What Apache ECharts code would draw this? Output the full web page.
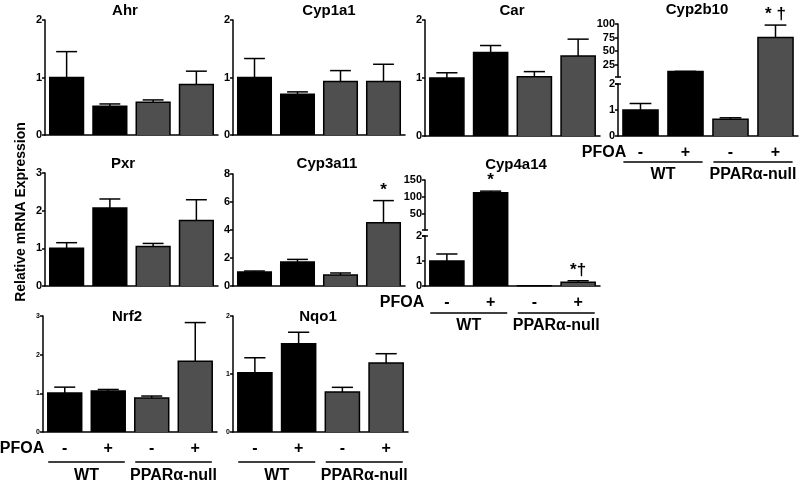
<!DOCTYPE html>
<html>
<head>
<meta charset="utf-8">
<script src="https://cdn.jsdelivr.net/npm/echarts@6.0.0/dist/echarts.min.js"></script>
<style>
  html, body { margin: 0; padding: 0; background: #fff; }
  #chart { width: 800px; height: 489px; }
</style>
</head>
<body>
<div id="chart"></div>
<script>
// x labels: PFOA treatment and genotype groups
var pfoa = ['-', '+', '-', '+'];
var genotypes = ['WT', 'PPARα-null'];

// mean relative mRNA expression (WT -, WT +, null -, null +) and SEM
var ahr = [1.0, 0.50, 0.57, 0.88];
var ahrSem = [0.45, 0.04, 0.04, 0.23];
var cyp1a1 = [1.0, 0.71, 0.93, 0.93];
var cyp1a1Sem = [0.33, 0.04, 0.19, 0.30];
var car = [1.0, 1.44, 1.02, 1.38];
var carSem = [0.09, 0.12, 0.09, 0.29];
var cyp2b10 = [1.0, 12, 0.64, 75];
var cyp2b10Sem = [0.25, 0.4, 0.06, 23];
var cyp2b10Notes = ['', '', '', '* †'];
var pxr = [1.0, 2.07, 1.05, 1.74];
var pxrSem = [0.15, 0.24, 0.08, 0.55];
var cyp3a11 = [1.0, 1.71, 0.79, 4.52];
var cyp3a11Sem = [0.07, 0.19, 0.14, 1.58];
var cyp3a11Notes = ['', '', '', '*'];
var cyp4a14 = [1.0, 112, 0.01, 0.15];
var cyp4a14Sem = [0.28, 5, 0, 0.06];
var cyp4a14Notes = ['', '*', '', '*†'];
var nrf2 = [1.01, 1.06, 0.88, 1.83];
var nrf2Sem = [0.15, 0.04, 0.05, 1.0];
var nqo1 = [1.02, 1.52, 0.69, 1.19];
var nqo1Sem = [0.26, 0.20, 0.08, 0.16];

// upper segment ticks of the broken axes
var cyp2b10UpperTicks = [25, 50, 75, 100];
var cyp4a14UpperTicks = [50, 100, 150];

var FONT = '"Liberation Sans", Arial, Helvetica, sans-serif';
var WT_COLOR = '#000000';
var NULL_COLOR = '#4f4f4f';

var panels = [
  { name: 'Ahr', mean: ahr, sem: ahrSem, left: 45, top: 20, width: 173, height: 115, max: 2, interval: 1, tx: 125, ty: 11 },
  { name: 'Cyp1a1', mean: cyp1a1, sem: cyp1a1Sem, left: 233, top: 20, width: 172, height: 115, max: 2, interval: 1, tx: 329, ty: 11 },
  { name: 'Car', mean: car, sem: carSem, left: 425, top: 20, width: 175, height: 116, max: 2, interval: 1, tx: 512, ty: 11 },
  { name: 'Cyp2b10', mean: cyp2b10, sem: cyp2b10Sem, notes: cyp2b10Notes, left: 618, top: 84, width: 180, height: 52, max: 2, interval: 1, tx: 697, ty: 10,
    upper: { top: 24, height: 53, max: 100, ticks: cyp2b10UpperTicks },
    labels: true, pfoaX: 604, lineDy: 26, groupDy: 37 },
  { name: 'Pxr', mean: pxr, sem: pxrSem, left: 45, top: 173, width: 173, height: 113, max: 3, interval: 1, tx: 123, ty: 164 },
  { name: 'Cyp3a11', mean: cyp3a11, sem: cyp3a11Sem, notes: cyp3a11Notes, left: 233, top: 174, width: 172, height: 112, max: 8, interval: 2, tx: 327, ty: 164 },
  { name: 'Cyp4a14', mean: cyp4a14, sem: cyp4a14Sem, notes: cyp4a14Notes, left: 425, top: 236, width: 175, height: 50, max: 2, interval: 1, tx: 516, ty: 165,
    upper: { top: 180, height: 50, max: 150, ticks: cyp4a14UpperTicks },
    labels: true, pfoaX: 402, lineDy: 27, groupDy: 38 },
  { name: 'Nrf2', mean: nrf2, sem: nrf2Sem, left: 43, top: 316, width: 174, height: 116, max: 3, interval: 1, tx: 127, ty: 317, small: true,
    labels: true, pfoaX: 22, lineDy: 30, groupDy: 42 },
  { name: 'Nqo1', mean: nqo1, sem: nqo1Sem, left: 233, top: 316, width: 175, height: 116, max: 2, interval: 1, tx: 318, ty: 317, small: true,
    labels: true, lineDy: 30, groupDy: 42 }
];

var axisLineStyle = { color: '#000', width: 1.5 };

function text(x, y, str, size, extra) {
  var el = {
    type: 'text', x: x, y: y, z: 10,
    style: {
      text: str, font: 'bold ' + size + 'px ' + FONT, fill: '#000',
      align: 'center', verticalAlign: 'middle', textAlign: 'center', textVerticalAlign: 'middle'
    }
  };
  for (var k in extra) el[k] = extra[k];
  return el;
}

function line(x1, y1, x2, y2) {
  return { type: 'line', z: 10, shape: { x1: x1, y1: y1, x2: x2, y2: y2 }, style: { stroke: '#000', lineWidth: 1.5 } };
}

// bars with upper error whisker; lo/hi limit the piece drawn in this grid
function barSeries(p, xi, yi, lo, hi, gap) {
  return {
    type: 'custom',
    xAxisIndex: xi,
    yAxisIndex: yi,
    data: p.mean.map(function (m, i) { return [i, m, p.sem[i]]; }),
    encode: { x: 0, y: 1 },
    renderItem: function (params, api) {
      var i = api.value(0), m = api.value(1), e = api.value(2);
      if (m <= lo) return null;
      var cut = m > hi;
      var bw = api.size([1, 0])[0] * 0.78;
      var b = api.coord([i, lo]);
      var t = api.coord([i, cut ? hi : m]);
      var xl = b[0] - bw / 2, xr = b[0] + bw / 2;
      var yt = cut ? t[1] - gap : t[1];
      var stroke = { stroke: '#000', lineWidth: 1.5, fill: null };
      var kids = [{ type: 'rect', shape: { x: xl, y: yt, width: bw, height: b[1] - yt },
        style: { fill: i < 2 ? WT_COLOR : NULL_COLOR } }];
      if (cut) {
        kids.push({ type: 'line', shape: { x1: xl, y1: b[1], x2: xl, y2: yt }, style: stroke });
        kids.push({ type: 'line', shape: { x1: xr, y1: b[1], x2: xr, y2: yt }, style: stroke });
      } else {
        kids.push({ type: 'polyline', shape: { points: [[xl, b[1]], [xl, yt], [xr, yt], [xr, b[1]]] }, style: stroke });
        var et = api.coord([i, m + e])[1];
        if (e > 0) {
          kids.push({ type: 'line', shape: { x1: b[0], y1: yt, x2: b[0], y2: et }, style: stroke });
          kids.push({ type: 'line', shape: { x1: b[0] - bw * 0.31, y1: et, x2: b[0] + bw * 0.31, y2: et }, style: stroke });
        }
        var note = p.notes ? p.notes[params.dataIndex] : '';
        if (note) {
          kids.push({ type: 'text', x: b[0], y: et - 2,
            style: { text: note, font: 'bold 17px ' + FONT, fill: '#000',
              align: 'center', verticalAlign: 'bottom', textAlign: 'center', textVerticalAlign: 'bottom' } });
        }
      }
      return { type: 'group', children: kids };
    }
  };
}

var grids = [], xAxes = [], yAxes = [], series = [], graphics = [];

panels.forEach(function (p) {
  var gi = grids.length;
  var xi = xAxes.length, yi = yAxes.length;
  var tickFont = p.small ? 7 : 11;
  grids.push({ left: p.left, top: p.top, width: p.width, height: p.height });
  xAxes.push({
    gridIndex: gi, type: 'category', data: pfoa,
    axisLine: { lineStyle: axisLineStyle },
    axisTick: { alignWithLabel: true, length: 4, lineStyle: axisLineStyle },
    axisLabel: { show: !!p.labels, interval: 0, color: '#000', fontFamily: FONT, fontWeight: 'bold', fontSize: 16, margin: 9 }
  });
  yAxes.push({
    gridIndex: gi, type: 'value', min: 0, max: p.max, interval: p.interval,
    axisLine: { show: true, lineStyle: axisLineStyle },
    axisTick: { show: true, length: 3, lineStyle: axisLineStyle },
    axisLabel: { color: '#000', fontFamily: FONT, fontWeight: 'bold', fontSize: tickFont, margin: 3 },
    splitLine: { show: false }
  });
  var gap = p.upper ? p.top - (p.upper.top + p.upper.height) : 0;
  series.push(barSeries(p, xi, yi, 0, p.upper ? p.max : Infinity, gap));

  if (p.upper) {
    var gu = grids.length;
    var xu = xAxes.length, yu = yAxes.length;
    grids.push({ left: p.left, top: p.upper.top, width: p.width, height: p.upper.height });
    xAxes.push({ gridIndex: gu, type: 'category', data: pfoa, show: false });
    yAxes.push({
      gridIndex: gu, type: 'value', min: p.max, max: p.upper.max,
      axisLine: { show: true, lineStyle: axisLineStyle },
      axisTick: { show: true, length: 3, lineStyle: axisLineStyle, customValues: p.upper.ticks },
      axisLabel: { color: '#000', fontFamily: FONT, fontWeight: 'bold', fontSize: tickFont, margin: 3, customValues: p.upper.ticks },
      splitLine: { show: false }
    });
    series.push(barSeries(p, xu, yu, p.max, Infinity, 0));
    // break caps on the axis
    var ub = p.upper.top + p.upper.height;
    graphics.push(line(p.left - 3, ub, p.left + 3, ub));
    graphics.push(line(p.left - 3, p.top, p.left + 3, p.top));
  }

  graphics.push(text(p.tx, p.ty, p.name, 15));

  if (p.labels) {
    var axisY = p.top + p.height;
    var cat = p.width / 4;
    // genotype labels as a second category axis under the panel
    xAxes.push({
      gridIndex: gi, type: 'category', data: genotypes, position: 'bottom', offset: p.groupDy - 6,
      axisLine: { show: false }, axisTick: { show: false },
      axisLabel: { interval: 0, color: '#000', fontFamily: FONT, fontWeight: 'bold', fontSize: 16, margin: 0 }
    });
    genotypes.forEach(function (g, k) {
      var c = p.left + cat * (2 * k + 1);
      graphics.push(line(c - cat * 0.88, axisY + p.lineDy, c + cat * 0.88, axisY + p.lineDy));
    });
    if (p.pfoaX) graphics.push(text(p.pfoaX, axisY + 17, 'PFOA', 16));
  }
});

graphics.push(text(21, 212, 'Relative mRNA Expression', 14, { rotation: Math.PI / 2 }));

var chart = echarts.init(document.getElementById('chart'), null, { renderer: 'canvas' });
chart.setOption({
  animation: false,
  backgroundColor: '#fff',
  grid: grids,
  xAxis: xAxes,
  yAxis: yAxes,
  series: series,
  graphic: graphics
});
</script>
</body>
</html>
